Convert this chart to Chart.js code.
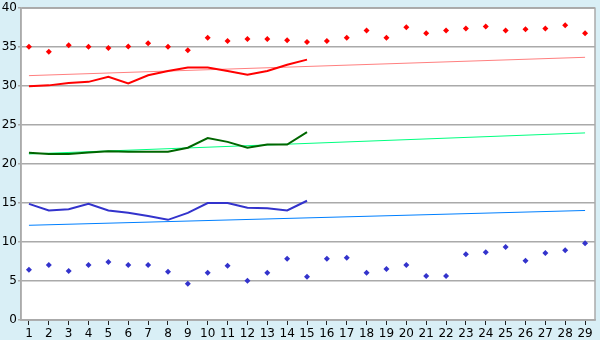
<!DOCTYPE html>
<html>
<head>
<meta charset="utf-8">
<script src="https://cdn.jsdelivr.net/npm/chart.js@4"></script>
<style>
  html, body { margin: 0; padding: 0; background: #d9eff6; }
  #wrap { width: 600px; height: 340px; }
</style>
</head>
<body>
<div id="wrap"><canvas id="myChart" width="600" height="340"></canvas></div>
<script>
// days along the bottom
var days = [1, 2, 3, 4, 5, 6, 7, 8, 9, 10, 11, 12, 13, 14, 15, 16, 17, 18, 19, 20,
            21, 22, 23, 24, 25, 26, 27, 28, 29];

// upper scatter (red diamonds)
var redPoints = [35.05, 34.4, 35.25, 35.05, 34.9, 35.1, 35.5, 35.05, 34.6, 36.2,
                 35.8, 36.05, 36.05, 35.9, 35.65, 35.8, 36.2, 37.15, 36.2, 37.55,
                 36.8, 37.15, 37.4, 37.65, 37.15, 37.3, 37.4, 37.8, 36.8];
// red line (first 15 days)
var redLine = [30.0, 30.1, 30.4, 30.55, 31.2, 30.35, 31.4, 31.95, 32.4, 32.4,
               31.95, 31.45, 31.95, 32.75, 33.4];
// green line
var greenLine = [21.45, 21.3, 21.3, 21.5, 21.65, 21.6, 21.6, 21.6, 22.1, 23.35,
                 22.85, 22.1, 22.5, 22.5, 24.1];
// blue line
var blueLine = [14.9, 14.05, 14.2, 14.9, 14.05, 13.75, 13.35, 12.85, 13.75, 15.0,
                15.0, 14.4, 14.35, 14.05, 15.3];
// lower scatter (blue diamonds)
var bluePoints = [6.45, 7.05, 6.3, 7.05, 7.45, 7.05, 7.05, 6.2, 4.65, 6.05,
                  6.95, 5.05, 6.05, 7.85, 5.55, 7.85, 8.0, 6.05, 6.55, 7.05,
                  5.65, 5.65, 8.45, 8.7, 9.35, 7.6, 8.6, 8.95, 9.85];

// trend lines: value at first and last day
var trendDays = [1, 29];
var redTrend = [31.35, 33.7];
var greenTrend = [21.3, 24.0];
var blueTrend = [12.15, 14.05];

var yTicks = [0, 5, 10, 15, 20, 25, 30, 35, 40];

function pts(vals, xs) {
    xs = xs || days;
    return vals.map(function (v, i) { return { x: xs[i], y: v }; });
}

var plotBg = {
    id: 'plotBg',
    beforeDraw: function (chart) {
        var c = chart.ctx, a = chart.chartArea;
        c.save();
        c.fillStyle = '#d9eff6';
        c.fillRect(0, 0, chart.width, chart.height);
        c.fillStyle = '#ffffff';
        c.fillRect(a.left, a.top, a.right - a.left, a.bottom - a.top);
        c.restore();
    },
    afterDatasetsDraw: function (chart) {
        var c = chart.ctx, a = chart.chartArea;
        c.save();
        c.strokeStyle = '#aaaaaa';
        c.lineWidth = 1.5;
        c.strokeRect(a.left, a.top, a.right - a.left, a.bottom - a.top);
        c.restore();
    }
};

var lineStyle = function (color, width, ord) {
    return {
        borderColor: color, backgroundColor: color, borderWidth: width,
        pointRadius: 0, tension: 0, fill: false, showLine: true, order: ord
    };
};
var dotStyle = function (color) {
    return {
        borderColor: color, backgroundColor: color, borderWidth: 0,
        pointStyle: 'rectRot', pointRadius: 3, showLine: false, order: 1
    };
};

new Chart(document.getElementById('myChart').getContext('2d'), {
    type: 'scatter',
    data: {
        datasets: [
            Object.assign({ data: pts(redTrend, trendDays) }, lineStyle('#ff8080', 1, 3)),
            Object.assign({ data: pts(greenTrend, trendDays) }, lineStyle('#00ff80', 1, 3)),
            Object.assign({ data: pts(blueTrend, trendDays) }, lineStyle('#0080ff', 1, 3)),
            Object.assign({ data: pts(redLine) }, lineStyle('#ff0000', 2, 2)),
            Object.assign({ data: pts(greenLine) }, lineStyle('#006600', 2, 2)),
            Object.assign({ data: pts(blueLine) }, lineStyle('#3333cc', 2, 2)),
            Object.assign({ data: pts(redPoints) }, dotStyle('#ff0000')),
            Object.assign({ data: pts(bluePoints) }, dotStyle('#3333cc'))
        ]
    },
    options: {
        responsive: false,
        animation: false,
        layout: { padding: { top: 5, right: 5, left: 0, bottom: 0 } },
        plugins: { legend: { display: false }, tooltip: { enabled: false } },
        scales: {
            x: {
                type: 'linear',
                min: 0.6,
                max: 29.5,
                afterFit: function (s) { s.height = 20; },
                grid: { drawOnChartArea: false, drawTicks: true, tickLength: 5, color: '#222222' },
                border: { color: '#aaaaaa', width: 1.5 },
                ticks: {
                    stepSize: 1, includeBounds: false, autoSkip: false, maxRotation: 0,
                    padding: 2, color: '#000000',
                    font: { family: 'DejaVu Sans', size: 12 },
                    callback: function (v) { return days.indexOf(v) >= 0 ? String(v) : ''; }
                }
            },
            y: {
                min: 0,
                max: 40,
                afterFit: function (s) { s.width = 21; },
                afterBuildTicks: function (s) { s.ticks = yTicks.map(function (v) { return { value: v }; }); },
                grid: { color: '#aaaaaa', lineWidth: 1.5, tickLength: 3 },
                border: { color: '#aaaaaa', width: 1.5 },
                ticks: {
                    padding: 1, color: '#000000',
                    font: { family: 'DejaVu Sans', size: 12 }
                }
            }
        }
    },
    plugins: [plotBg]
});
</script>
</body>
</html>
